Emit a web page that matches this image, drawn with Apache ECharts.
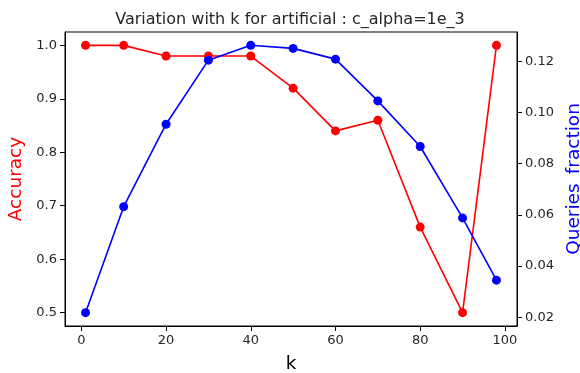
<!DOCTYPE html>
<html>
<head>
<meta charset="utf-8">
<script src="https://cdn.jsdelivr.net/npm/echarts@6/dist/echarts.min.js"></script>
<style>
  html, body { margin: 0; padding: 0; background: #fff; }
  #chart { width: 580px; height: 373px; }
</style>
</head>
<body>
<div id="chart"></div>
<script>
// values
var kValues = [1, 10, 20, 30, 40, 50, 60, 70, 80, 90, 98];
var accuracy = [1.0, 1.0, 0.98, 0.98, 0.98, 0.92, 0.84, 0.86, 0.66, 0.5, 1.0];
var queriesFraction = [0.0218, 0.0632, 0.0954, 0.1204, 0.1262, 0.1250, 0.1208, 0.1045, 0.0867, 0.0588, 0.0345];
var xTicks = [0, 20, 40, 60, 80, 100];
var accTicks = [0.5, 0.6, 0.7, 0.8, 0.9, 1.0];
var fracTicks = [0.02, 0.04, 0.06, 0.08, 0.10, 0.12];

var textColor = '#262626';
var font = 'DejaVu Sans';

function pairs(xs, ys) {
	var out = [];
	for (var i = 0; i < xs.length; i++) {
		out.push([xs[i], ys[i]]);
	}
	return out;
}

function axisCommon(ticks, fmt) {
	return {
		axisLine: { show: true, onZero: false, lineStyle: { color: '#000', width: 1 } },
		axisTick: { show: true, length: 5, customValues: ticks, lineStyle: { color: '#000', width: 1 } },
		axisLabel: { customValues: ticks, color: textColor, fontSize: 13, fontFamily: font, margin: 8, formatter: fmt },
		splitLine: { show: false }
	};
}

var xAxis = Object.assign({
	type: 'value', min: -3.85, max: 102.85,
	name: 'k', nameLocation: 'middle', nameGap: 29,
	nameTextStyle: { color: '#000', fontSize: 18.5, fontFamily: font }
}, axisCommon(xTicks, function (v) { return String(Math.round(v)); }));

var yLeft = Object.assign({
	type: 'value', min: 0.475, max: 1.025, position: 'left',
	name: 'Accuracy', nameLocation: 'middle', nameGap: 39,
	nameTextStyle: { color: '#ff0000', fontSize: 18.5, fontFamily: font }
}, axisCommon(accTicks, function (v) { return v.toFixed(1); }));

var yRight = Object.assign({
	type: 'value', min: 0.0166, max: 0.1314, position: 'right',
	name: 'Queries_fraction', nameLocation: 'middle', nameGap: 43,
	nameTextStyle: { color: '#0000ff', fontSize: 18.5, fontFamily: font }
}, axisCommon(fracTicks, function (v) { return v.toFixed(2); }));

var chart = echarts.init(document.getElementById('chart'), null, { renderer: 'canvas' });
chart.setOption({
	animation: false,
	backgroundColor: '#fff',
	title: {
		text: 'Variation with k for artificial : c_alpha=1e_3',
		left: 'center', top: 7,
		textStyle: { color: textColor, fontSize: 16, fontWeight: 'normal', fontFamily: font }
	},
	grid: {
		left: 65, right: 63, top: 32, bottom: 47,
		containLabel: false, outerBoundsMode: 'none',
		show: true, borderColor: '#000', borderWidth: 1, backgroundColor: 'transparent'
	},
	xAxis: xAxis,
	yAxis: [yLeft, yRight],
	series: [
		{
			name: 'Accuracy', type: 'line', yAxisIndex: 0, z: 2,
			data: pairs(kValues, accuracy),
			symbol: 'circle', symbolSize: 9,
			lineStyle: { color: '#ff0000', width: 1.6 },
			itemStyle: { color: '#ff0000' }
		},
		{
			name: 'Queries_fraction', type: 'line', yAxisIndex: 1, z: 3,
			data: pairs(kValues, queriesFraction),
			symbol: 'circle', symbolSize: 9,
			lineStyle: { color: '#0000ff', width: 1.6 },
			itemStyle: { color: '#0000ff' }
		}
	]
});
</script>
</body>
</html>
